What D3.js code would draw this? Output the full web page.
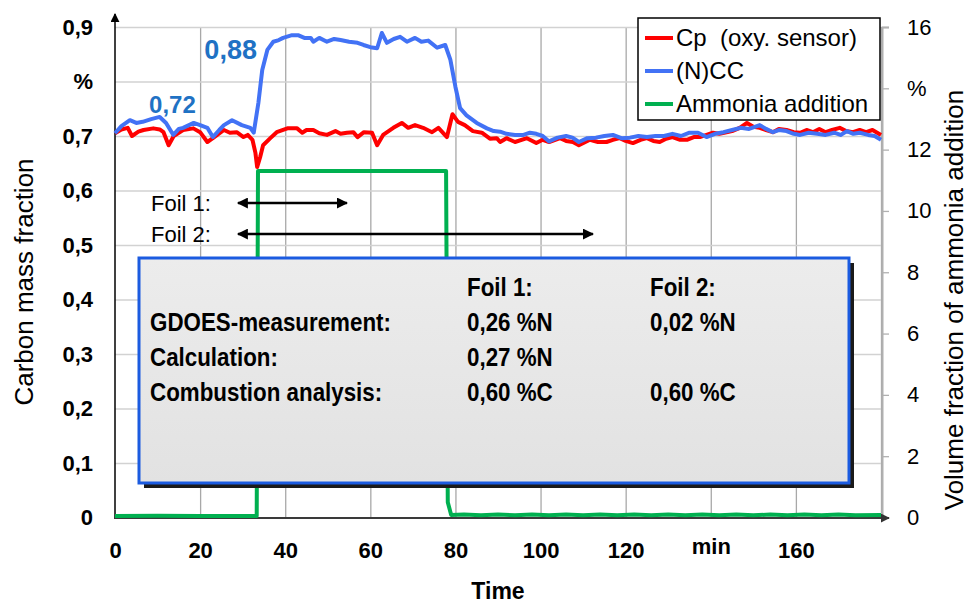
<!DOCTYPE html>
<html><head><meta charset="utf-8">
<script src="https://cdn.jsdelivr.net/npm/d3@7"></script>
<style>
body{margin:0;background:#fff;}
svg{display:block;font-family:"Liberation Sans",Arial,sans-serif;}
</style>
</head><body>
<svg id="chart" width="974" height="605"></svg>
<script>
// ---------- data ----------
const xTickValues = [0,20,40,60,80,100,120,140,160];
const xTickLabels = ["0","20","40","60","80","100","120","min","160"];
const leftTickValues = [0,0.1,0.2,0.3,0.4,0.5,0.6,0.7,0.8,0.9];
const leftTickLabels = ["0","0,1","0,2","0,3","0,4","0,5","0,6","0,7","%","0,9"];
const rightTickValues = [0,2,4,6,8,10,12,14,16];
const rightTickLabels = ["0","2","4","6","8","10","12","%","16"];

const cpTime = [0,1.5,3,4,5.5,6.7,9,10.5,11.4,12.6,13.8,16,18.4,20,21.7,23,25.6,27,28.6,30.2,31.2,32.3,33,33.4,34.1,34.8,36.5,38,40.5,42.8,44,45,46.6,48,49.8,51.8,53,54.5,56,57,58.5,60.4,61.6,63,65.4,67.4,68.9,70.5,72.4,74.5,76,78,79.3,80.6,82.2,84.1,86.2,88.1,89.7,90.5,92,94,96.8,99,100.5,102,104.6,106,107.6,109,111.6,113.5,115.5,117,118.6,120,121.7,123.5,125,126.5,128,129.5,131,132.8,134.4,136,137.4,139,140.5,142,143.7,145,146.8,148.5,150,151.5,153,154.6,156,157.8,159.5,161,162.5,164,165.5,167,168.5,170.3,171.8,173.4,175,176.5,178,180];
const cpValues = [0.705,0.712,0.715,0.700,0.708,0.711,0.714,0.712,0.707,0.683,0.700,0.711,0.714,0.707,0.689,0.696,0.711,0.706,0.707,0.698,0.702,0.693,0.669,0.643,0.661,0.683,0.696,0.707,0.714,0.714,0.706,0.711,0.711,0.705,0.702,0.709,0.704,0.706,0.707,0.698,0.707,0.706,0.683,0.702,0.715,0.724,0.715,0.720,0.715,0.707,0.715,0.698,0.740,0.726,0.720,0.709,0.706,0.695,0.696,0.689,0.696,0.689,0.696,0.687,0.693,0.689,0.696,0.691,0.689,0.683,0.693,0.689,0.689,0.693,0.696,0.691,0.687,0.693,0.696,0.691,0.689,0.695,0.698,0.693,0.693,0.698,0.698,0.702,0.706,0.704,0.707,0.709,0.715,0.724,0.717,0.715,0.711,0.707,0.713,0.711,0.707,0.706,0.711,0.707,0.713,0.707,0.711,0.715,0.709,0.707,0.711,0.707,0.711,0.702];

const nccTime = [0,1.5,3.5,5,6.5,8.5,10.5,12,13.7,15,16,18.5,20,21.7,23,24.5,25.6,27.5,29.8,31.8,32.6,33.7,34.6,35.8,37.2,38.5,39.5,41.6,43,44.5,46,46.6,48,49.8,51.5,53,55,57,58.4,60,61.6,62.7,63.9,65.5,67,68.6,70.5,72,73.6,75.7,77.6,78.8,80,81.1,82.6,85,87.4,89,90.5,92,94,96,97.5,99,100.5,102,104,106,107.5,109,111,113,115,117,119,121,123,125,127,129,131,133,135,137,139,141,143,145,147,149,151.5,153,154.6,156,157.8,159.5,161,163,165,167,169,170.5,172,173.5,175,177,178.5,180];
const nccValues = [0.705,0.718,0.729,0.724,0.726,0.731,0.735,0.724,0.702,0.713,0.715,0.724,0.720,0.715,0.698,0.711,0.720,0.729,0.720,0.715,0.706,0.761,0.821,0.858,0.873,0.876,0.880,0.885,0.885,0.880,0.880,0.873,0.880,0.873,0.878,0.876,0.873,0.871,0.867,0.863,0.861,0.889,0.871,0.878,0.882,0.873,0.880,0.873,0.875,0.862,0.867,0.840,0.790,0.751,0.738,0.724,0.714,0.709,0.708,0.704,0.702,0.702,0.706,0.704,0.700,0.690,0.697,0.700,0.697,0.689,0.696,0.697,0.700,0.702,0.696,0.697,0.700,0.698,0.700,0.700,0.704,0.700,0.706,0.706,0.698,0.704,0.707,0.711,0.715,0.713,0.720,0.713,0.707,0.711,0.709,0.704,0.702,0.706,0.704,0.702,0.706,0.702,0.709,0.704,0.706,0.702,0.700,0.693];

const nh3Time = [0,10,20,33.3,33.6,77.8,78.2,79,82,86,90,94,98,102,106,110,114,118,122,126,130,134,138,142,146,150,154,158,162,166,170,174,180];
const nh3Values = [0.05,0.06,0.05,0.05,11.3,11.3,0.5,0.08,0.1,0.07,0.1,0.07,0.1,0.07,0.1,0.07,0.1,0.07,0.1,0.07,0.1,0.07,0.1,0.07,0.1,0.07,0.1,0.07,0.1,0.07,0.1,0.07,0.08];

const seriesNames = ["Cp  (oxy. sensor)","(N)CC","Ammonia addition"];
const seriesColors = ["#ff0000","#4272f5","#00b050"];

const foilLabels = ["Foil 1:","Foil 2:"];
const foilStart = [28.9,28.9];
const foilEnd = [54.5,112.3];
const foilLevel = [0.577,0.520];

const tableHeader = ["","Foil 1:","Foil 2:"];
const tableRows = [
  ["GDOES-measurement:","0,26 %N","0,02 %N"],
  ["Calculation:","0,27 %N",""],
  ["Combustion analysis:","0,60 %C","0,60 %C"]
];

// ---------- layout ----------
const svg = d3.select("#chart");
const x = d3.scaleLinear().domain([0,180]).range([115,881]);
const yL = d3.scaleLinear().domain([0,0.9]).range([517.5,27]);
const yR = d3.scaleLinear().domain([0,16]).range([517.5,27]);

const defs = svg.append("defs");
function marker(id, color, w, h, orient){
  defs.append("marker").attr("id",id).attr("viewBox","0 0 10 10").attr("refX",9).attr("refY",5)
    .attr("markerWidth",w).attr("markerHeight",h).attr("markerUnits","userSpaceOnUse")
    .attr("orient",orient)
    .append("path").attr("d","M0,0 L10,5 L0,10 z").attr("fill",color);
}
marker("arrBlack","#000",9,9,"auto");
marker("arrGray","#333",9,9,"auto");
marker("arrFoil","#000",13,11,"auto-start-reverse");
const grad = defs.append("linearGradient").attr("id","boxGrad").attr("x1",0).attr("y1",0).attr("x2",0).attr("y2",1);
grad.append("stop").attr("offset","0%").attr("stop-color","#ececec");
grad.append("stop").attr("offset","100%").attr("stop-color","#e2e2e2");

// grid
svg.append("g").attr("transform","translate(0,517.5)")
  .call(d3.axisBottom(x).tickValues([20,40,60,80,100,120,140,160,180]).tickSize(-(517.5-27)).tickFormat(""))
  .call(g=>g.select(".domain").remove())
  .call(g=>g.selectAll("line").attr("stroke","#a8a8a8").attr("stroke-width",1.3));
svg.append("g").attr("transform","translate(115,0)")
  .call(d3.axisLeft(yL).tickValues([0.1,0.2,0.3,0.4,0.5,0.6,0.7,0.8,0.9]).tickSize(-(881-115)).tickFormat(""))
  .call(g=>g.select(".domain").remove())
  .call(g=>g.selectAll("line").attr("stroke","#d2d2d2").attr("stroke-width",1.3));

// right axis
const rAxis = svg.append("g").attr("transform","translate(882,0)")
  .call(d3.axisRight(yR).tickValues(rightTickValues).tickSize(7).tickPadding(18)
    .tickFormat((d,i)=>rightTickLabels[i]));
rAxis.select(".domain").attr("stroke","#b0b0b0").attr("stroke-width",2);
rAxis.selectAll("line").attr("stroke","#b0b0b0").attr("stroke-width",1.3);
rAxis.selectAll("text").attr("font-size",22).attr("fill","#000").attr("font-family","Liberation Sans,Arial,sans-serif");

// left axis labels
const lAxis = svg.append("g").attr("transform","translate(115,0)")
  .call(d3.axisLeft(yL).tickValues(leftTickValues).tickSize(0).tickPadding(22)
    .tickFormat((d,i)=>leftTickLabels[i]));
lAxis.select(".domain").remove();
lAxis.selectAll("text").attr("font-size",22).attr("font-weight","bold").attr("fill","#000").attr("font-family","Liberation Sans,Arial,sans-serif");

// x axis labels
const bAxis = svg.append("g").attr("transform","translate(0,517.5)")
  .call(d3.axisBottom(x).tickValues(xTickValues).tickSize(0).tickPadding(25)
    .tickFormat((d,i)=>xTickLabels[i]));
bAxis.select(".domain").remove();
bAxis.selectAll("text").attr("font-size",22).attr("font-weight","bold").attr("fill","#000").attr("font-family","Liberation Sans,Arial,sans-serif");
bAxis.selectAll("text").filter((d,i)=>i===7).attr("dy","0.5em");

// axis lines with arrows
svg.append("line").attr("x1",115).attr("x2",115).attr("y1",518).attr("y2",14)
  .attr("stroke","#000").attr("stroke-width",1.5).attr("marker-end","url(#arrBlack)");
svg.append("line").attr("x1",114).attr("x2",889).attr("y1",518).attr("y2",518)
  .attr("stroke","#3a3a3a").attr("stroke-width",2).attr("marker-end","url(#arrGray)");

// lines
const lineCp = d3.line().x((d,i)=>x(cpTime[i])).y(d=>yL(d));
const lineNcc = d3.line().x((d,i)=>x(nccTime[i])).y(d=>yL(d));
const lineNh3 = d3.line().x((d,i)=>x(nh3Time[i])).y(d=>yR(d));
svg.append("path").attr("d",lineNh3(nh3Values)).attr("fill","none").attr("stroke",seriesColors[2])
  .attr("stroke-width",4).attr("stroke-linejoin","round");
svg.append("path").attr("d",lineCp(cpValues)).attr("fill","none").attr("stroke",seriesColors[0])
  .attr("stroke-width",4).attr("stroke-linejoin","round");
svg.append("path").attr("d",lineNcc(nccValues)).attr("fill","none").attr("stroke",seriesColors[1])
  .attr("stroke-width",4).attr("stroke-linejoin","round");

// value annotations
svg.append("text").attr("x",x(8)).attr("y",yL(0.742)).attr("font-size",24).attr("font-weight","bold")
  .attr("fill","#1f72c4").text("0,72");
svg.append("text").attr("x",x(21)).attr("y",yL(0.841)).attr("font-size",27).attr("font-weight","bold")
  .attr("fill","#1f72c4").text("0,88");

// foil arrows
foilLabels.forEach((lab,i)=>{
  svg.append("text").attr("x",151).attr("y",yL(foilLevel[i])).attr("dy","0.35em")
    .attr("font-size",22).attr("fill","#000").text(lab);
  svg.append("line").attr("x1",x(foilStart[i])).attr("x2",x(foilEnd[i]))
    .attr("y1",yL(foilLevel[i])).attr("y2",yL(foilLevel[i]))
    .attr("stroke","#000").attr("stroke-width",2.5)
    .attr("marker-start","url(#arrFoil)").attr("marker-end","url(#arrFoil)");
});

// info box
const bx=139, by=258, bw=710, bh=225;
svg.append("rect").attr("x",bx+5).attr("y",by+5).attr("width",bw).attr("height",bh).attr("fill","#1a1a1a");
svg.append("rect").attr("x",bx).attr("y",by).attr("width",bw).attr("height",bh)
  .attr("fill","url(#boxGrad)").attr("stroke","#1b5be0").attr("stroke-width",3);
const colX = [150,467,650];
function cell(t, cx, cy){
  svg.append("text").attr("transform",`translate(${cx},${cy}) scale(0.86,1)`).attr("dy","0.35em")
    .attr("font-size",26).attr("font-weight","bold").attr("fill","#000").text(t);
}
tableHeader.forEach((t,j)=>{ if(t) cell(t,colX[j],287); });
tableRows.forEach((row,r)=>{ row.forEach((t,j)=>{ if(t) cell(t,colX[j],322+r*35); }); });

// legend
svg.append("rect").attr("x",638).attr("y",18).attr("width",242).attr("height",102)
  .attr("fill","#fff").attr("stroke","#000").attr("stroke-width",1.5);
seriesNames.forEach((n,i)=>{
  const yy = 38 + i*33;
  svg.append("line").attr("x1",645).attr("x2",673).attr("y1",yy).attr("y2",yy)
    .attr("stroke",seriesColors[i]).attr("stroke-width",4);
  svg.append("text").attr("x",676).attr("y",yy).attr("dy","0.35em").attr("font-size",24)
    .attr("fill","#000").style("white-space","pre").text(n);
});

// axis titles
svg.append("text").attr("transform","translate(33,282) rotate(-90)").attr("text-anchor","middle")
  .attr("font-size",26).attr("fill","#000").text("Carbon mass fraction");
svg.append("text").attr("transform","translate(963,300) rotate(-90)").attr("text-anchor","middle")
  .attr("font-size",26).attr("fill","#000").text("Volume fraction of ammonia addition");
svg.append("text").attr("x",498).attr("y",591).attr("dy","0.35em").attr("text-anchor","middle")
  .attr("font-size",23).attr("font-weight","bold").attr("fill","#000").text("Time");
</script>
</body></html>
